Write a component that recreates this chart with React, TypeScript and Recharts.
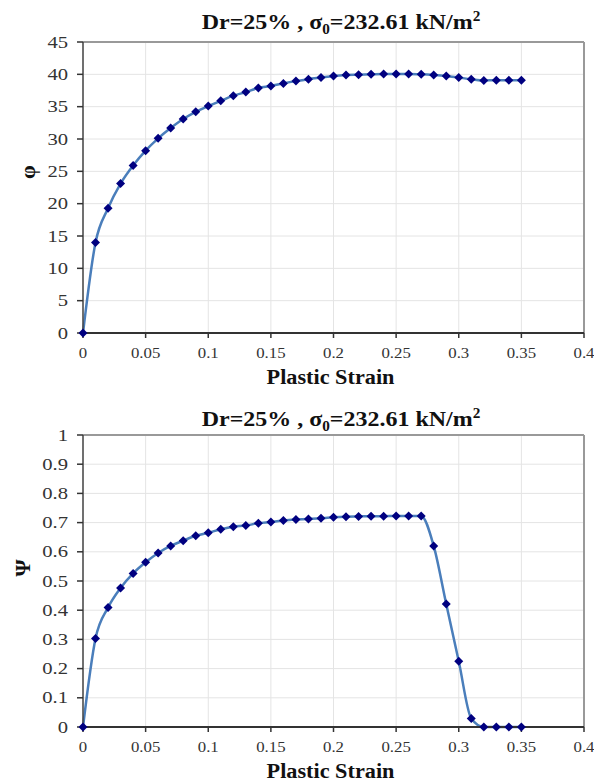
import React from "react";
import { LineChart, Line, XAxis, YAxis, CartesianGrid, ReferenceLine } from "recharts";

const strain = [
  0, 0.01, 0.02, 0.03, 0.04, 0.05, 0.06, 0.07, 0.08, 0.09, 0.1, 0.11, 0.12,
  0.13, 0.14, 0.15, 0.16, 0.17, 0.18, 0.19, 0.2, 0.21, 0.22, 0.23, 0.24, 0.25,
  0.26, 0.27, 0.28, 0.29, 0.3, 0.31, 0.32, 0.33, 0.34, 0.35,
];

const phi = [
  0, 14.0, 19.3, 23.1, 25.9, 28.2, 30.1, 31.7, 33.1, 34.2, 35.1, 35.9, 36.7,
  37.25, 37.9, 38.2, 38.6, 38.95, 39.25, 39.5, 39.75, 39.9, 39.95, 40.0, 40.05,
  40.05, 40.05, 40.0, 39.9, 39.75, 39.5, 39.25, 39.05, 39.1, 39.1, 39.1,
];

const psi = [
  0, 0.303, 0.409, 0.476, 0.526, 0.564, 0.596, 0.62, 0.638, 0.655, 0.665,
  0.677, 0.686, 0.69, 0.698, 0.702, 0.707, 0.711, 0.712, 0.715, 0.718, 0.72,
  0.721, 0.722, 0.722, 0.723, 0.723, 0.723, 0.62, 0.421, 0.225, 0.029, 0, 0, 0, 0,
];

const xTicks = [0, 0.05, 0.1, 0.15, 0.2, 0.25, 0.3, 0.35, 0.4];
const phiTicks = [0, 5, 10, 15, 20, 25, 30, 35, 40, 45];
const psiTicks = [0, 0.1, 0.2, 0.3, 0.4, 0.5, 0.6, 0.7, 0.8, 0.9, 1];

const phiRows = strain.map((s, i) => ({ s, v: phi[i] }));
const psiRows = strain.map((s, i) => ({ s, v: psi[i] }));

const FONT = "Liberation Serif";

// the source figure is stretched sideways, so text gets a horizontal scale
const XTick = (p: any) => (
  <text transform={`translate(${p.x},${p.y + 18}) scale(1.2,1)`} textAnchor="middle"
    fontFamily={FONT} fontSize={14} fill="#333">
    {String(p.payload.value)}
  </text>
);

const YTick = (p: any) => (
  <text transform={`translate(${p.x},${p.y + 5.5}) scale(1.25,1)`} textAnchor="end"
    fontFamily={FONT} fontSize={16.5} fill="#333">
    {String(p.payload.value)}
  </text>
);

const Diamond = (p: any) => {
  const { cx, cy, index } = p;
  if (cx == null || cy == null) return <g key={index} />;
  const r = 4.5;
  return (
    <path
      key={index}
      d={`M${cx},${cy - r}L${cx + r},${cy}L${cx},${cy + r}L${cx - r},${cy}Z`}
      fill="#000080"
    />
  );
};

const xLabel = (dy: number) => (props: any) => {
  const vb = props.viewBox;
  return (
    <text transform={`translate(${vb.x + vb.width / 2 - 3},${vb.y + dy}) scale(1.06,1)`} textAnchor="middle"
      fontFamily={FONT} fontWeight="bold" fontSize={21} fill="#111">
      Plastic Strain
    </text>
  );
};

const yLabel = (txt: string, cx: number, cy: number) => () => (
  <text x={cx} y={cy} transform={`rotate(-90 ${cx} ${cy})`} textAnchor="middle"
    dominantBaseline="central" fontFamily={FONT} fontWeight="bold" fontSize={22} fill="#111">
    {txt}
  </text>
);

function Panel({ rows, top, height, margin, yDomain, yTicks, labelTxt, labelX, labelY }: any) {
  return (
    <div style={{ position: "absolute", left: 0, top }}>
      <LineChart width={594} height={height} data={rows} margin={margin}>
        <CartesianGrid stroke="#e4e4e4" strokeWidth={1} />
        <XAxis type="number" dataKey="s" domain={[0, 0.4]} ticks={xTicks} height={40}
          tick={<XTick />} tickSize={5} interval={0}
          axisLine={{ stroke: "#333", strokeWidth: 2 }} tickLine={{ stroke: "#333", strokeWidth: 1.5 }}
          label={{ content: xLabel(51) }} />
        <YAxis type="number" domain={yDomain} ticks={yTicks} width={83}
          tick={<YTick />} tickSize={6} tickMargin={9} interval={0}
          axisLine={{ stroke: "#444", strokeWidth: 1.5 }} tickLine={{ stroke: "#333", strokeWidth: 1.5 }}
          label={{ content: yLabel(labelTxt, labelX, labelY - top) }} />
        <ReferenceLine y={yDomain[1]} stroke="#999" strokeWidth={2} />
        <ReferenceLine x={0.4} stroke="#999" strokeWidth={2} />
        <Line type="monotone" dataKey="v" stroke="#4a7ebb" strokeWidth={2.5}
          dot={Diamond} activeDot={false} isAnimationActive={false} />
      </LineChart>
    </div>
  );
}

const Title = ({ y }: { y: number }) => (
  <text transform={`translate(341,${y}) scale(1.09,1)`} textAnchor="middle"
    fontFamily={FONT} fontWeight="bold" fontSize={22} fill="#111">
    Dr=25% , σ<tspan fontSize={14} dy={5}>0</tspan>
    <tspan dy={-5}>=232.61 kN/m</tspan>
    <tspan fontSize={14} dy={-8}>2</tspan>
  </text>
);

export default function App() {
  return (
    <div style={{ position: "absolute", left: 0, top: 0, width: 594, height: 783, background: "#fff", fontFamily: FONT }}>
      <Panel rows={phiRows} top={0} height={392} margin={{ top: 42, right: 10, bottom: 19, left: 0 }}
        yDomain={[0, 45]} yTicks={phiTicks} labelTxt="φ" labelX={27} labelY={172} />
      <Panel rows={psiRows} top={392} height={391} margin={{ top: 43, right: 10, bottom: 16, left: 0 }}
        yDomain={[0, 1]} yTicks={psiTicks} labelTxt="Ψ" labelX={22} labelY={568} />
      <svg width={594} height={783} style={{ position: "absolute", left: 0, top: 0, pointerEvents: "none" }}>
        <Title y={29} />
        <Title y={426} />
      </svg>
    </div>
  );
}
